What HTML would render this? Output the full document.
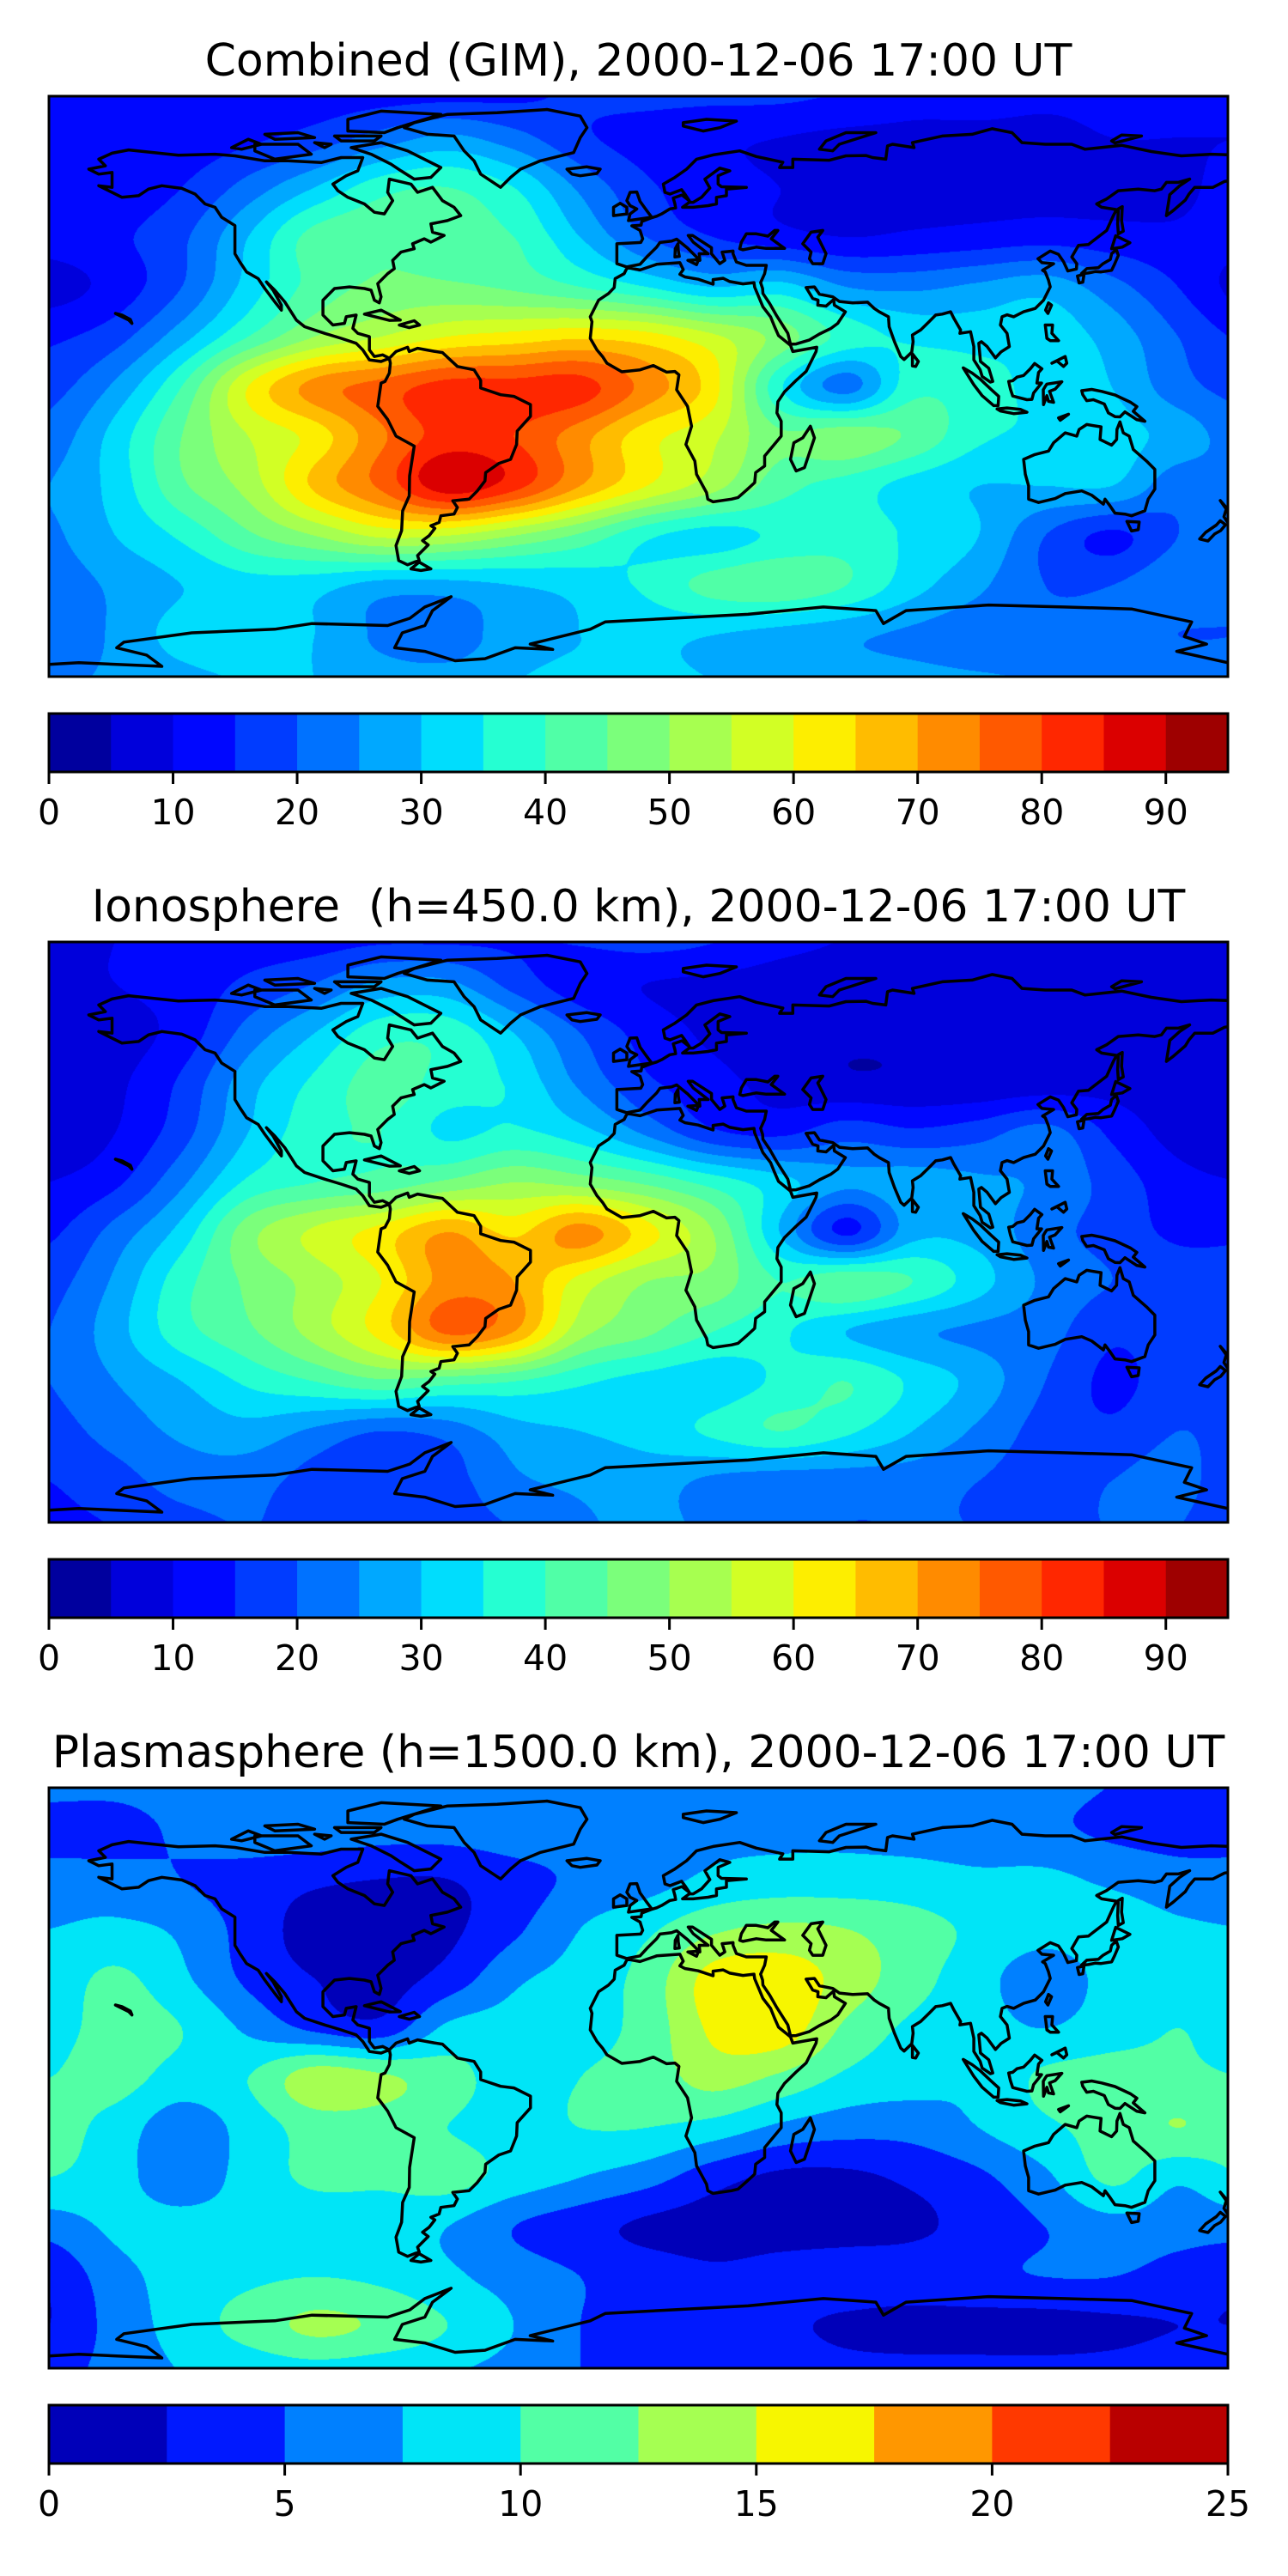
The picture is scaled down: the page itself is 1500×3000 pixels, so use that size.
<!DOCTYPE html>
<html><head><meta charset="utf-8">
<style>
html,body{margin:0;padding:0;background:#fff;}
#wrap{position:relative;width:1500px;height:3000px;overflow:hidden;background:#fff;}
canvas{position:absolute;left:57px;}
svg{position:absolute;left:0;top:0;}
text{font-family:"DejaVu Sans","Liberation Sans",sans-serif;fill:#000;white-space:pre;}
</style></head>
<body>
<div id="wrap">
<canvas id="c0" width="1373" height="676" style="top:112px"></canvas>
<canvas id="c1" width="1373" height="676" style="top:1097px"></canvas>
<canvas id="c2" width="1373" height="676" style="top:2082px"></canvas>
<svg id="ov" width="1500" height="3000"></svg>
</div>
<script>
// ---- data grids (lon -180..180 step 20, lat 90..-90 step 15) ----
const gridLons = [-180,-160,-140,-120,-100,-80,-60,-40,-20,0,20,40,60,80,100,120,140,160,180];
const gridLats = [90,75,60,45,30,15,0,-15,-30,-45,-60,-75,-90];
const combinedTEC = [
[12,12,12,12,12,12,12,13,16,17,17,17,15,12,12,11,11,11,12],
[10,11,12,14,17,22,26,22,16,13,11,10,9,9,9,9,10,10,10],
[12,12,15,22,30,38,40,35,24,16,12,10,8,8,8,8,8,9,12],
[12,14,19,30,42,44,42,40,30,20,15,12,10,11,12,13,12,11,12],
[8,12,20,32,42,46,46,44,40,35,30,32,25,24,26,28,22,15,8],
[14,18,28,40,50,55,60,62,64,62,56,48,38,34,33,33,28,20,14],
[18,26,40,60,72,77,82,82,82,73,62,36,23,38,37,33,30,22,18],
[22,32,45,55,62,74,82,80,72,62,56,46,48,44,36,34,32,28,22],
[25,32,44,52,66,76,88,82,70,60,52,42,38,33,30,30,30,22,25],
[24,30,36,44,50,56,55,50,44,36,33,36,38,34,30,20,14,20,24],
[22,26,30,33,32,28,28,30,32,36,42,44,40,32,26,20,20,24,22],
[20,26,32,34,30,24,22,28,30,31,30,28,26,24,22,22,22,20,20],
[24,26,28,30,30,28,28,30,31,31,30,29,28,27,26,25,25,25,24]];
const ionosphereTEC = [
[9,10,12,12,12,13,13,14,16,18,16,12,10,9,9,9,9,9,9],
[9,10,12,16,20,26,26,18,12,10,9,8,8,8,8,8,8,8,8],
[7,8,12,22,30,38,38,30,20,13,9,7,6,6,6,6,7,7,7],
[7,9,16,28,36,42,38,34,24,16,12,8,6,6,6,7,8,7,7],
[6,10,18,30,38,40,34,36,32,24,16,14,18,16,18,22,14,8,6],
[10,14,24,36,40,42,46,50,48,44,38,32,26,28,26,24,18,12,10],
[14,22,32,48,56,62,70,64,72,62,50,30,14,28,28,22,18,14,14],
[18,26,38,46,52,60,72,70,58,50,48,40,44,40,32,24,20,18,18],
[20,28,38,44,52,62,76,70,52,46,40,36,30,26,24,22,16,18,20],
[20,25,30,36,40,44,42,40,36,33,32,36,40,34,28,20,14,18,20],
[18,22,26,28,24,20,22,28,30,32,36,40,36,30,24,18,16,20,18],
[15,18,22,22,18,16,18,24,26,27,24,22,22,22,20,18,20,22,15],
[14,15,18,20,18,16,18,20,24,26,24,22,20,20,20,20,20,20,14]];
const plasmasphereTEC = [
[6,6,6.5,6.5,6.5,6.5,6.5,6.5,6.5,6.5,6.5,6.5,6.5,6.5,6.5,6,5,4,5],
[4,4,5.5,6.5,6.5,6,6,6.5,6.5,7,7,7,7,6.5,6,5.5,4.5,4,4],
[6,6,5,4,3,2.5,2.5,4,5.5,6.5,8,8.5,8.5,8.5,8,8,7,6,6],
[7.5,8,7,4,1.5,1.5,2,4.5,7.5,9.5,12,13,12.5,11,9.5,8.5,9,8,7.5],
[8.5,10.5,8,4.5,2.5,1.5,3.5,7,8.5,11,16,16.5,14,11,8.5,6,8.5,9.5,8.5],
[9,11,10,7,4.5,3.5,8,8.5,9,11,15.5,16.5,12,9.5,8.5,7.5,9,10,9],
[10,11,9,10,14,13,11,9,10,11,13.5,12,9.5,8.5,8,10.5,11,10.5,10],
[11,9,6,8.5,11,11,10,9,10,10,9,7,6,6,7.5,9.5,11,12.5,11],
[10,8.5,6,8.5,10.5,10.5,11,9,7.5,6,3.5,2,2,3,4.5,7,10.5,8,10],
[6,8,8.5,8.5,8.5,8.5,7.5,5,3.5,2,1.5,1.5,1.5,2,3.5,5,6.5,6,6],
[3,6.5,8.5,9.5,10,9.5,8,6.5,5,4,3,3.5,4,4,4.5,5,5,4,3],
[2.5,6,8.5,11,13,12,10,7.5,5,4,3.5,3,2,1.5,1.5,1.5,2,2.5,2.5],
[4,6,7.5,8,8.5,8,7.5,6.5,5,4.5,4,4,3.5,3.5,3.5,3.5,3.5,4,4]];
const levelsTEC = [0,5,10,15,20,25,30,35,40,45,50,55,60,65,70,75,80,85,90,95];
const levelsPlasma = [0,2.5,5,7.5,10,12.5,15,17.5,20,22.5,25];
const ticksTEC = [0,10,20,30,40,50,60,70,80,90];
const ticksPlasma = [0,5,10,15,20,25];
const titles = ["Combined (GIM), 2000-12-06 17:00 UT","Ionosphere  (h=450.0 km), 2000-12-06 17:00 UT","Plasmasphere (h=1500.0 km), 2000-12-06 17:00 UT"];

// ---- coastlines (lon,lat) ----
const coasts = [
[[-165,68.5],[-163,66.5],[-168,65.5],[-165,64],[-161,64.5],[-161,60],[-165,60.5],[-158,57],[-153,57.5],[-150,59.5],[-146,60.5],[-140,59.7],[-136,58],[-133,55],[-130,54],[-128,51],[-124,48.5],[-124,43],[-124,40],[-122.5,37.5],[-120.5,34.5],[-117,32.5],[-115,29.5],[-112,25.5],[-110,23],[-110,24.5],[-112.5,29],[-114.5,31.5],[-112,29],[-109,25.5],[-105.5,20],[-103,18],[-97,16],[-92,14.5],[-87.5,13],[-85.5,11],[-83.5,8],[-80,7.5],[-77.5,8.5],[-79.5,9.5],[-82,9],[-83.5,11],[-83.5,15],[-87,16],[-88.5,17.5],[-87.5,21.5],[-90.5,21],[-91,19],[-94.5,18.5],[-97.5,21.5],[-97.5,26],[-94,29.5],[-89.5,30],[-85,29.5],[-83,29],[-82,26],[-80.5,25.2],[-80,27],[-81,31],[-78,34],[-76,35.5],[-76.5,38],[-74,40.5],[-70,41.5],[-70.5,43],[-67,44.5],[-65,43.5],[-61,45.5],[-64.5,46.5],[-65,49],[-60,50],[-56,51.5],[-58,54],[-61.5,56],[-64.5,60],[-69,58.5],[-71,61],[-77.5,62.5],[-78,58.5],[-76.5,56],[-79,52],[-82,52.5],[-85,55],[-90,57],[-93,59],[-94.5,61],[-90.5,63.5],[-87,65],[-85.5,69],[-92,69],[-96,68],[-98,67.5],[-108,68],[-115,68],[-124,69.5],[-130,70],[-141,69.7],[-156,71.3],[-161,70.3],[-165,68.5]],
[[-73,78],[-66,76],[-58,75.5],[-55,71],[-52,68],[-50,64],[-44,60],[-41,63],[-38,65.5],[-32,68],[-22,70.5],[-20,75],[-18,78],[-20,81.5],[-30,83.5],[-45,82.5],[-60,82],[-70,79.5],[-73,78]],
[[-80,73.5],[-72,71],[-66,68],[-62,66],[-65,63],[-70,62.5],[-74,65],[-77,67],[-83,70],[-89,72],[-80,73.5]],
[[-80,83],[-62,82],[-75,78],[-79,76.5],[-90,77],[-90,80.5],[-80,83]],
[[-118,73],[-105,73],[-101,70],[-112,68.5],[-118,71],[-118,73]],
[[-125,72],[-120,74.5],[-116,73],[-122,71.5],[-125,72]],
[[-94,75.5],[-80,75.5],[-82,74],[-92,74],[-94,75.5]],
[[-100,73.5],[-95,73],[-97,72],[-100,73.5]],
[[-115,76],[-105,76.5],[-100,75],[-112,74.5],[-115,76]],
[[-85,21.8],[-80,23],[-74.2,20],[-77.5,19.9],[-85,21.8]],
[[-74.5,18.5],[-70,19.8],[-68.4,18.5],[-71.5,17.7],[-74.5,18.5]],
[[-156,20],[-155,19],[-155.5,20.2],[-158,21.5],[-160,22],[-156,20]],
[[-24,65.5],[-18,66.2],[-14,65.5],[-15,64.2],[-20,63.5],[-22.5,64],[-24,65.5]],
[[-5.5,50],[1.5,51],[0,53],[-2,55.8],[-3,58.6],[-5,58.5],[-6,56],[-5,54.5],[-3,53.5],[-5,52],[-5.5,50]],
[[-10,51.5],[-6,52],[-6,54],[-8,55.2],[-10,54],[-10,51.5]],
[[-9,43],[-9,37],[-6,36],[-2,36.8],[0,39],[3,42],[4,43.4],[7.5,43.8],[9,44.4],[12.3,41.7],[16,38],[15.8,40],[18.5,40],[14,43.5],[12.5,45.5],[13.8,45.5],[19.5,41.8],[19.5,40],[22,37],[23.5,38],[22.7,40.5],[26,40.8],[26,40],[27,37.5],[30,36.5],[36,36.5],[35.5,34],[34.3,31.3],[34.9,29.5],[35,28],[37,25],[39,21.5],[42.5,16],[43.3,12.7],[45,12.8],[49,14],[52,15.8],[55.5,17.5],[57.5,19],[59.8,22.5],[56.5,24.5],[56.3,26.2],[54,24.2],[51.5,24.5],[51.6,26],[50,26.5],[48,29.8],[50.5,30],[52,27.8],[56,27],[58,25.6],[62,25.2],[66.5,25.4],[68.5,23.5],[70,22.5],[72.8,21],[73,18],[74.6,13.5],[76.5,9],[77.5,8.1],[79.8,10.3],[80.2,13.5],[80,15.5],[82.5,17],[85,19.5],[87,21.5],[89,21.8],[91.5,22.5],[92.5,20.5],[94.5,17],[94.3,16],[97.5,16.5],[98.5,12],[98.5,8],[100.4,5],[101,3],[103.5,1.3],[104.2,1.5],[103,5.5],[100.5,7.5],[100,13],[100.8,13.5],[102.5,12],[105,8.6],[106.7,10.4],[109.2,12],[108.5,16],[106.5,18.5],[107,21],[108.5,21.6],[110.5,21],[113.5,22.5],[117,23.5],[119.5,26],[121.5,30],[121,32],[120,34.5],[119.2,35],[122.5,37],[119,37.3],[117.8,38.5],[121.5,40.8],[124,39.8],[125.5,37.6],[126.8,34.8],[129.4,35.4],[129.5,37],[128,39],[130,42.5],[133,42.8],[138.5,47],[140.5,51.5],[141.5,53.3],[137,54],[135.5,55],[138.5,56.5],[142,59],[148,59.5],[153,59],[155,59.5],[156.5,61.5],[160,61.5],[163.5,62.5],[160.5,60.5],[157.5,57.8],[156.5,51.5],[158.5,53],[162.2,56.2],[163.3,58],[165,60],[170.5,60],[174,61.8],[179,62.5],[180,65],[180,69],[176,69.8],[170,70],[161,69.5],[152,70.8],[143,72.7],[132,71.5],[128,73],[120,73],[113,73.5],[110,76.5],[104,77.7],[98,76],[89,75.5],[80,73.5],[80.5,72],[74,73],[72.5,72.5],[72,68.5],[68,69],[66,69.6],[60,69.5],[55,68.2],[44,68.5],[44,66],[40,66],[41,67.6],[33,69.3],[28,71],[20,69.8],[15,68.5],[12,65.5],[8.5,63],[5,61],[5.5,58.5],[7,58],[10.5,59.3],[11.5,58],[12.8,56],[10.6,57.7],[8,56.8],[8.5,55],[8.7,53.8],[7,53.5],[4.5,52],[3,51.3],[1.6,50.9],[-1.5,49.7],[-1.7,48.6],[-4.5,48.4],[-2,47],[-1.2,44.5],[-1.8,43.4],[-9,43]],
[[10.8,54],[14,54],[18.5,54.5],[21,55],[21,57],[24,57.5],[24,59.5],[30,60],[22.5,60.2],[21.5,61],[21.5,63.5],[25,65],[22,65.8],[17.5,62.5],[19,59.8],[16.5,57],[14,55.5],[12.8,55.5],[10.8,54]],
[[28,41.5],[28.5,43.5],[30,46],[33,46],[36.5,45.3],[38.5,47],[39.5,47],[37.5,44.5],[41.5,41.6],[36,41.6],[33,42],[29,41.2],[28,41.5]],
[[47,43],[49.5,46.5],[53,47],[51.5,45],[53,42],[54,40],[53,37],[50,37],[49,38.5],[49.5,40.5],[47,43]],
[[-5.9,35.8],[-2,35.1],[3,36.8],[10,37.3],[11,35.2],[10,33.8],[11.5,33],[15.5,32.3],[20,30.8],[20,32.2],[23,32.6],[25,31.6],[29,30.9],[32.3,31.3],[32.5,29.9],[35,24],[37.3,21],[38.5,18],[39.7,15.3],[43.3,12.4],[44,10.5],[51.2,11.8],[51,10.5],[48,4.5],[45,1.8],[41.5,-1.6],[39.5,-4.6],[39.2,-8],[40.5,-10.5],[40.5,-15],[35.5,-21],[35.5,-24],[32.8,-26],[32.5,-29],[30,-31.3],[27.5,-33.5],[25.5,-34],[20,-34.8],[18.4,-34],[18,-32],[15,-26.5],[14.5,-22.5],[11.8,-17.5],[13.5,-12],[12.3,-6],[9,-1],[9.7,3.5],[8.5,4.5],[6,4.3],[2,6.3],[-2,5],[-7.5,4.4],[-12,7],[-13.3,9],[-15,11],[-17,14.5],[-16.5,19.5],[-17,21],[-14.5,26],[-11.5,28],[-9.8,29.8],[-9.5,32.5],[-6.8,34],[-5.9,35.8]],
[[49.3,-12],[50.5,-15.5],[47.5,-24.5],[45,-25.5],[43.3,-22],[44.3,-17],[47,-15.5],[49.3,-12]],
[[80,9.8],[81.8,7.5],[81,6],[80,6.2],[80,9.8]],
[[-77.5,8.5],[-75.5,10.5],[-72,11.8],[-71.5,10.5],[-69,11.5],[-64,10.6],[-61.5,10.2],[-57,6],[-52,5],[-50,1.8],[-50,-0.5],[-44,-2.5],[-40,-3],[-35,-5.5],[-35,-9],[-39,-13.5],[-39.2,-17.5],[-41,-22],[-44.5,-23.2],[-48.5,-26],[-48.7,-28.5],[-51,-31.5],[-53.5,-34],[-58.4,-34.5],[-57,-36.5],[-58,-38.5],[-62,-39],[-62.5,-41],[-65,-42],[-63.8,-42.8],[-65.5,-45],[-67.5,-46.5],[-65.8,-47.8],[-69,-51],[-68.5,-52.5],[-70,-53],[-72,-53.8],[-74.7,-52.5],[-75.5,-48],[-73.8,-43.5],[-73.5,-37.5],[-71.5,-33],[-71.4,-27],[-70,-18],[-75.5,-15],[-78,-10],[-81,-6],[-80.5,-2.5],[-80,1],[-78.8,1.5],[-77.5,4],[-77.2,7],[-77.5,8.5]],
[[-68.5,-53],[-65,-55],[-68,-55.5],[-71,-55],[-68.5,-53]],
[[113.5,-22],[114,-26.5],[115,-30],[115,-34],[118,-35],[123,-33.8],[126,-32.3],[131,-31.5],[134,-32.8],[137.5,-35.5],[138,-34],[139.5,-36],[141,-38.2],[144,-38.5],[146,-39],[150,-37.5],[151,-34],[153,-31],[153,-25],[150.5,-22.5],[146.5,-19],[145.3,-15],[143.5,-14],[142.5,-10.7],[141.6,-13],[141.5,-16],[140,-17.7],[136.5,-16],[136.8,-12.2],[132.5,-11.5],[130.2,-13],[129.5,-15],[126,-14],[122.5,-17],[121,-19.5],[116.7,-20.6],[113.5,-22]],
[[144.6,-40.7],[148.3,-40.9],[148,-43.2],[146,-43.6],[144.6,-40.7]],
[[172.7,-34.4],[174.5,-36.5],[178.5,-37.6],[177,-39.5],[175.3,-41.6],[173.8,-39.3],[174.5,-37],[172.7,-34.4]],
[[172.7,-40.5],[174.3,-41.7],[172.8,-43.5],[171,-44.5],[169,-46.6],[166.5,-46],[168.3,-44],[171.5,-41.8],[172.7,-40.5]],
[[130.9,34],[132.5,35.5],[136,35.8],[137.4,37],[139.6,38.3],[140,40],[141.4,41.3],[142,39.5],[140.9,36.9],[140,35],[136.8,34.5],[135,34.6],[133,34.2],[130.9,34]],
[[129.7,33.3],[131.7,33.8],[131.3,31.4],[130.2,31.2],[129.7,33.3]],
[[140,41.5],[141.2,45.4],[145.5,43.3],[143.2,42],[140,41.5]],
[[142,46],[143.5,46.8],[143,50],[143.2,54.2],[142,53.5],[141.8,49],[142,46]],
[[120.1,23],[121,25.2],[121.9,24.5],[120.8,22],[120.1,23]],
[[120,18.5],[122.2,18.5],[122,16],[124,13.8],[121.5,13.8],[120.5,14.5],[120,18.5]],
[[122,7],[126,9],[126.5,7],[125.5,6],[123.5,7.7],[122,7]],
[[95.3,5.6],[98,4],[100.4,2.2],[103.8,-1],[106,-3],[105.8,-5.8],[104.5,-5.8],[101,-2.8],[98.5,0.5],[95.3,5.6]],
[[105.5,-6.8],[108.5,-6.5],[112.5,-6.9],[114.5,-7.8],[110.5,-8.2],[106.5,-7.4],[105.5,-6.8]],
[[109,1.5],[110.2,1.7],[111.5,2.8],[113.5,3.3],[115.5,5.3],[116.8,6.9],[119,5.3],[118,4.2],[117.5,1],[118.9,1],[116.5,-2],[116,-3.9],[114.5,-4],[110.2,-2.9],[109.5,-0.8],[109,1.5]],
[[119.5,-5.5],[120.5,-2.8],[121,-4.5],[122.5,-4.8],[121.3,-1.5],[123,-0.8],[125,1.4],[120.5,0.7],[120,0],[119.4,-1],[119.5,-5.5]],
[[131,-1.3],[134,-0.9],[137,-1.5],[141,-2.6],[145.7,-4.8],[147.6,-6.1],[146.5,-7.5],[150,-10.5],[147.5,-10],[144,-7.7],[142.5,-9.2],[141,-9.1],[139,-8],[137.8,-5.3],[134.5,-4],[132.5,-4.3],[131.3,-2.5],[131,-1.3]],
[[124,-9.5],[127,-8.4],[124.5,-10.2],[124,-9.5]],
[[52,71.5],[56,71],[58,73],[69,76.5],[60,76.5],[54,74],[52,71.5]],
[[11,78.5],[17,77],[22,78],[27,80],[18,80.5],[11,79.5],[11,78.5]],
[[140,74],[143,75.8],[149,75.5],[141,73.4],[140,74]],
[[12.4,38],[15.6,38.2],[15,36.7],[12.4,38]],
[[8.5,39],[9.8,39.2],[9.5,41],[9.4,43],[8.6,41.5],[8.5,39]]
];
const antarctica = [[-180,-83.8],[-171,-83.3],[-146,-84.4],[-150.6,-81],[-159.6,-78.8],[-157.4,-77.1],[-137,-74.3],[-112,-73.2],[-100.8,-71.5],[-78,-72.1],[-71.3,-69.9],[-66.8,-66.5],[-58.9,-63.4],[-64.5,-67.6],[-66.8,-72.1],[-73.6,-74.3],[-75.9,-78.8],[-66.8,-79.9],[-57.7,-82.7],[-48.7,-82.1],[-39.6,-78.8],[-28.3,-79.3],[-35.1,-77.7],[-17,-73.2],[-12.5,-71],[7.9,-69.9],[30.5,-68.7],[53.2,-66.5],[69,-67.6],[71.3,-71.5],[78.1,-67.6],[103,-65.9],[125.6,-66.5],[146,-67.1],[164.1,-71],[161.9,-75.4],[168.6,-77.7],[159.6,-79.9],[175,-83.3],[180,-84]];

// ---- geometry ----
const MX=57, MY=112, MW=1373, MH=676, DY=985, LON0=-180, LON1=175, LAT0=87.5, LAT1=-87.5;
function xOf(lon){return MX+(lon-LON0)/(LON1-LON0)*MW;}
function yOf(lat,k){return MY+k*DY+(LAT0-lat)/(LAT0-LAT1)*MH;}
function jet(t){
  function seg(p,t){for(let i=0;i<p.length-1;i++){if(t<=p[i+1][0]){const a=p[i],b=p[i+1];return a[1]+(b[1]-a[1])*(t-a[0])/(b[0]-a[0]);}}return p[p.length-1][1];}
  const r=seg([[0,0],[0.35,0],[0.66,1],[0.89,1],[1,0.5]],t);
  const g=seg([[0,0],[0.125,0],[0.375,1],[0.64,1],[0.91,0],[1,0]],t);
  const b=seg([[0,0.5],[0.11,1],[0.34,1],[0.65,0],[1,0]],t);
  return [Math.round(r*255),Math.round(g*255),Math.round(b*255)];
}
function binColors(levels){const n=levels.length-1,out=[];for(let i=0;i<n;i++){out.push(jet((i+0.5)/n));}return out;}
function cr(p0,p1,p2,p3,t){return 0.5*((2*p1)+(-p0+p2)*t+(2*p0-5*p1+4*p2-p3)*t*t+(-p0+3*p1-3*p2+p3)*t*t*t);}
function sample(grid,gx,gy){
  const R=grid.length,C=grid[0].length;
  const ix=Math.floor(gx),iy=Math.floor(gy),fx=gx-ix,fy=gy-iy;
  const rows=[];
  for(let j=-1;j<=2;j++){
    const yy=Math.min(R-1,Math.max(0,iy+j));const row=grid[yy];
    const v=[];for(let i=-1;i<=2;i++){v.push(row[Math.min(C-1,Math.max(0,ix+i))]);}
    rows.push(cr(v[0],v[1],v[2],v[3],fx));
  }
  return cr(rows[0],rows[1],rows[2],rows[3],fy);
}
function drawField(id,grid,levels){
  const cv=document.getElementById(id),ctx=cv.getContext('2d');
  const img=ctx.createImageData(MW,MH),d=img.data,cols=binColors(levels);
  const step=levels[1]-levels[0],n=levels.length-1;
  const dLon=gridLons[1]-gridLons[0],dLat=gridLats[0]-gridLats[1];
  for(let py=0;py<MH;py++){
    const lat=LAT0-(py+0.5)/MH*(LAT0-LAT1);const gy=(gridLats[0]-lat)/dLat;
    for(let px=0;px<MW;px++){
      const lon=LON0+(px+0.5)/MW*(LON1-LON0);const gx=(lon-gridLons[0])/dLon;
      const v=sample(grid,gx,gy);
      let b=Math.floor((v-levels[0])/step);if(b<0)b=0;if(b>n-1)b=n-1;
      const c=cols[b],o=(py*MW+px)*4;d[o]=c[0];d[o+1]=c[1];d[o+2]=c[2];d[o+3]=255;
    }
  }
  ctx.putImageData(img,0,0);
}
drawField('c0',combinedTEC,levelsTEC);
drawField('c1',ionosphereTEC,levelsTEC);
drawField('c2',plasmasphereTEC,levelsPlasma);

// ---- overlay ----
const NS='http://www.w3.org/2000/svg';
const ov=document.getElementById('ov');
function mk(tag,attrs,parent){const e=document.createElementNS(NS,tag);for(const k in attrs)e.setAttribute(k,attrs[k]);(parent||ov).appendChild(e);return e;}
const defs=mk('defs',{});
const panelNames=['combined','ionosphere','plasmasphere'];
const panelLevels=[levelsTEC,levelsTEC,levelsPlasma];
const panelTicks=[ticksTEC,ticksTEC,ticksPlasma];
for(let k=0;k<3;k++){
  const cp=mk('clipPath',{id:'clip'+k},defs);
  mk('rect',{x:MX,y:MY+k*DY,width:MW,height:MH},cp);
  const g=mk('g',{'clip-path':'url(#clip'+k+')'});
  
  
  let dstr='';
  for(const poly of coasts){dstr+='M'+poly.map(p=>xOf(p[0]).toFixed(1)+','+yOf(p[1],k).toFixed(1)).join('L')+'Z';}
  dstr+='M'+antarctica.map(p=>xOf(p[0]).toFixed(1)+','+yOf(p[1],k).toFixed(1)).join('L');
  const path=mk('path',{d:dstr,fill:'none',stroke:'#000','stroke-width':3.5,'stroke-linejoin':'round'},g);
  
  
  const frame=mk('rect',{x:MX,y:MY+k*DY,width:MW,height:MH,fill:'none',stroke:'#000','stroke-width':3});
  
  
  const title=mk('text',{x:(MX+MX+MW)/2,y:88+k*DY,'text-anchor':'middle','font-size':52,'xml:space':'preserve'});
  title.textContent=titles[k];
  
  
  // colorbar
  const lv=panelLevels[k],cols=binColors(lv),cy=831+k*DY,ch=68;
  const lo=lv[0],hi=lv[lv.length-1];
  const cx=v=>MX+(v-lo)/(hi-lo)*MW;
  const cb=mk('g',{});
  
  
  for(let i=0;i<cols.length;i++){
    const r=mk('rect',{x:cx(lv[i]),y:cy,width:cx(lv[i+1])-cx(lv[i])+0.6,height:ch,fill:'rgb('+cols[i].join(',')+')'},cb);
    
    
  }
  mk('rect',{x:MX,y:cy,width:MW,height:ch,fill:'none',stroke:'#000','stroke-width':3},cb);
  for(const t of panelTicks[k]){
    const tl=mk('line',{x1:cx(t),x2:cx(t),y1:cy+ch,y2:cy+ch+14,stroke:'#000','stroke-width':3},cb);
    
    
    const tx=mk('text',{x:cx(t),y:960+k*DY,'text-anchor':'middle','font-size':41},cb);
    tx.textContent=String(t);
    
    
  }
}
</script>
</body></html>
